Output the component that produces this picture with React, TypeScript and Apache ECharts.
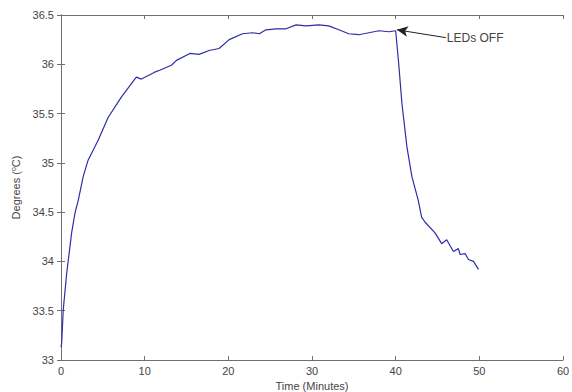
import React, { useEffect, useRef } from "react";
import * as echarts from "echarts";

const timeMinutes = [
  0, 0.08, 0.27, 0.68, 1.27, 1.67, 2.06, 2.65, 3.25, 4.44, 5.63, 7.23, 9.0, 9.6,
  11.2, 11.8, 13.2, 13.8, 15.4, 16.5, 17.7, 18.9, 20.1, 21.7, 22.9, 23.7, 24.5,
  25.7, 26.9, 28.1, 29.3, 30.8, 32.0, 33.2, 34.4, 35.6, 36.8, 38.0, 39.2, 40.0,
  40.36, 40.75, 41.35, 41.94, 42.7, 43.1, 43.5, 44.7, 45.5, 46.1, 46.3, 46.9,
  47.5, 47.7, 48.3, 48.7, 49.3, 49.9,
];
const degreesC = [
  33.13, 33.17, 33.51, 33.88, 34.29, 34.49, 34.62, 34.86, 35.03, 35.23, 35.46,
  35.67, 35.87, 35.85, 35.92, 35.94, 35.99, 36.04, 36.11, 36.1, 36.14, 36.16,
  36.25, 36.31, 36.32, 36.31, 36.35, 36.36, 36.36, 36.4, 36.39, 36.4, 36.39,
  36.35, 36.31, 36.3, 36.32, 36.34, 36.33, 36.34, 36.01, 35.6, 35.16, 34.86,
  34.62, 34.45, 34.4, 34.29, 34.18, 34.22, 34.19, 34.1, 34.13, 34.07, 34.08,
  34.02, 34.0, 33.92,
];
const annotationText = "LEDs OFF";
const annotationFrom = [46.0, 36.27];
const annotationTo = [40.15, 36.35];

const xTicks = { min: 0, max: 60, interval: 10 };
const yTicks = { min: 33, max: 36.5, interval: 0.5 };

export default function App() {
  const ref = useRef<HTMLDivElement>(null);
  useEffect(() => {
    document.body.style.margin = "0";
    if (!ref.current) return;
    const chart = echarts.init(ref.current, null, { renderer: "svg" });
    const font = "'Liberation Sans', Arial, sans-serif";
    const axisLine = { show: true, lineStyle: { color: "#6f6f6f", width: 1 } };
    const axisTick = { show: true, inside: true, length: 4, lineStyle: { color: "#6f6f6f" } };
    chart.setOption({
      animation: false,
      backgroundColor: "#ffffff",
      grid: { left: 61, right: 9, top: 15, bottom: 32, containLabel: false, outerBoundsMode: "none" },
      xAxis: [
        {
          type: "value",
          ...xTicks,
          position: "bottom",
          axisLine,
          axisTick,
          splitLine: { show: false },
          axisLabel: { color: "#444", fontFamily: font, fontSize: 11, margin: 5 },
          name: "Time (Minutes)",
          nameLocation: "middle",
          nameGap: 18,
          nameTextStyle: { color: "#444", fontFamily: font, fontSize: 11 },
        },
        {
          type: "value",
          ...xTicks,
          position: "top",
          axisLine,
          axisTick,
          splitLine: { show: false },
          axisLabel: { show: false },
        },
      ],
      yAxis: [
        {
          type: "value",
          ...yTicks,
          position: "left",
          axisLine,
          axisTick,
          splitLine: { show: false },
          axisLabel: { color: "#444", fontFamily: font, fontSize: 11, margin: 7 },
          name: "{n|Degrees (}{s|o}{n|C)}",
          nameLocation: "middle",
          nameGap: 25,
          nameRotate: 90,
          nameTextStyle: {
            color: "#444",
            fontFamily: font,
            fontSize: 11,
            rich: {
              n: { fontFamily: font, fontSize: 11, color: "#444" },
              s: { fontFamily: font, fontSize: 7, color: "#444", verticalAlign: "top", padding: [0, 0, 5, 0] },
            },
          },
        },
        {
          type: "value",
          ...yTicks,
          position: "right",
          axisLine,
          axisTick,
          splitLine: { show: false },
          axisLabel: { show: false },
        },
      ],
      series: [
        {
          type: "line",
          xAxisIndex: 0,
          yAxisIndex: 0,
          data: timeMinutes.map((t, i) => [t, degreesC[i]]),
          showSymbol: false,
          symbol: "none",
          lineStyle: { color: "#2e2ea8", width: 1.2 },
          markLine: {
            silent: true,
            symbol: ["none", "arrow"],
            symbolSize: [8, 11],
            lineStyle: { color: "#222", width: 1, type: "solid" },
            label: {
              show: true,
              position: "start",
              formatter: annotationText,
              color: "#444",
              fontFamily: font,
              fontSize: 12,
              distance: 1,
            },
            data: [[{ coord: annotationFrom }, { coord: annotationTo }]],
          },
        },
      ],
    });
    return () => chart.dispose();
  }, []);
  return <div ref={ref} style={{ width: 572, height: 392 }} />;
}
